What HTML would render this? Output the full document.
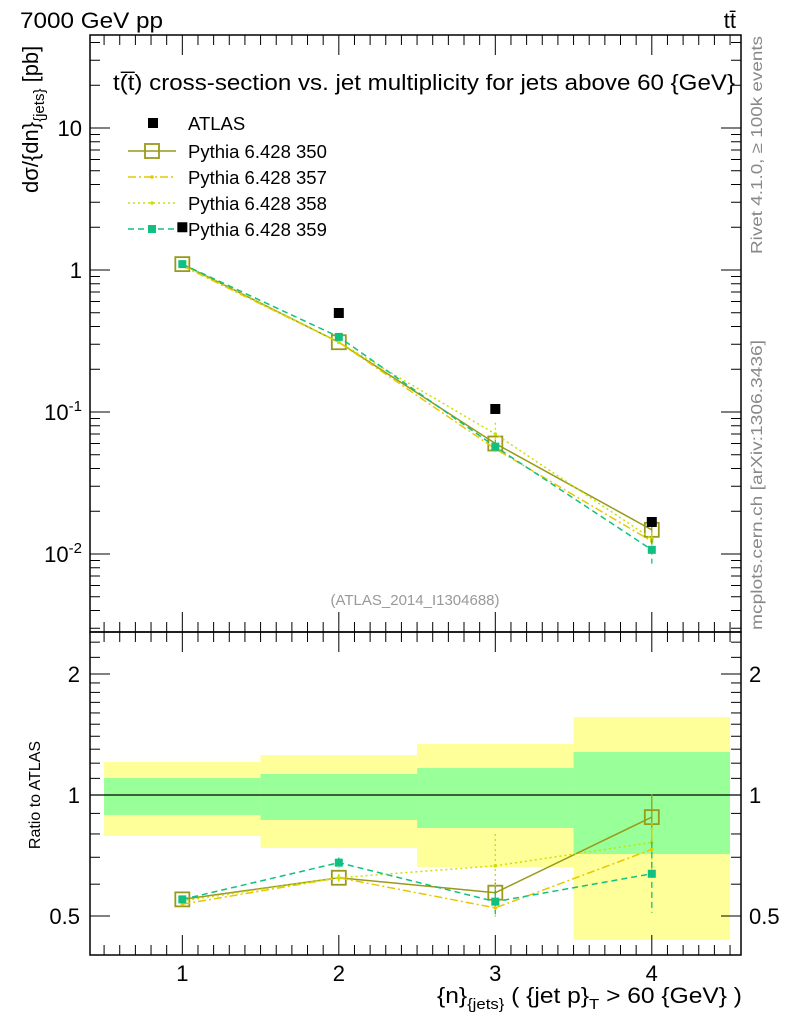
<!DOCTYPE html>
<html><head><meta charset="utf-8">
<style>
html,body{margin:0;padding:0;background:#fff;}
svg{display:block;font-family:"Liberation Sans",sans-serif;}
</style></head>
<body>
<svg id="chart" width="786" height="1024" viewBox="0 0 786 1024" xmlns="http://www.w3.org/2000/svg">
<text x="20" y="28" font-size="22" textLength="143" lengthAdjust="spacingAndGlyphs">7000 GeV pp</text>
<text x="736" y="28" font-size="22" text-anchor="end">tt̄</text>
<text x="113" y="90" font-size="22" textLength="622" lengthAdjust="spacingAndGlyphs">t(̅t) cross-section vs. jet multiplicity for jets above 60 {GeV}</text>
<text x="415" y="605" font-size="15" fill="#999" text-anchor="middle">(ATLAS_2014_I1304688)</text>
<text transform="translate(762,145) rotate(-90)" font-size="16" fill="#888" text-anchor="middle" textLength="218" lengthAdjust="spacingAndGlyphs">Rivet 4.1.0, ≥ 100k events</text>
<text transform="translate(762,485) rotate(-90)" font-size="16" fill="#888" text-anchor="middle" textLength="290" lengthAdjust="spacingAndGlyphs">mcplots.cern.ch [arXiv:1306.3436]</text>
<text transform="translate(38,193) rotate(-90)" font-size="22">dσ/{dn}<tspan font-size="15" dy="6">{jets}</tspan><tspan dy="-6"> [pb]</tspan></text>
<text transform="translate(40,795) rotate(-90)" font-size="16" text-anchor="middle">Ratio to ATLAS</text>
<text x="437" y="1003" font-size="22" textLength="305" lengthAdjust="spacingAndGlyphs">{n}<tspan font-size="15" dy="6">{jets}</tspan><tspan dy="-6"> ( {jet p}</tspan><tspan font-size="15" dy="6">T</tspan><tspan dy="-6"> &gt; 60 {GeV} )</tspan></text>
<g id="bands"></g><g id="plots"></g><g id="axes"></g>
<g id="legend"></g>
</svg>
<script>
const categories=[1,2,3,4];
const binEdges=[0.5,1.5,2.5,3.5,4.5];
const atlas=[2.0,0.498,0.105,0.0168];
const s350=[1.1,0.31,0.060,0.0148];
const s357=[1.07,0.31,0.055,0.0123];
const s358=[1.09,0.31,0.070,0.0128];
const s359=[1.1,0.338,0.057,0.0107];
const e350=[0.01,0.02,0.06,0.14];
const e357=[0.01,0.02,0.05,0.12];
const e358=[0.01,0.02,0.2,0.12];
const e359=[0.01,0.03,0.07,0.2];
const yellowLo=[0.791,0.738,0.662,0.436];
const yellowHi=[1.208,1.257,1.339,1.563];
const greenLo=[0.892,0.867,0.828,0.713];
const greenHi=[1.102,1.128,1.167,1.279];
const mainTicks=["10^-2","10^-1","1","10"];
const ratioTicks=[0.5,1,2];

const NS="http://www.w3.org/2000/svg";
const L=90,R=741,T=35,M=632,B=955;
const X=v=>L+(v-0.41)/(4.57-0.41)*(R-L);
const Y=v=>270-142*Math.log10(v);
const YR=v=>795-402*Math.log10(v);
function mk(tag,attrs,parent){const e=document.createElementNS(NS,tag);for(const k in attrs)e.setAttribute(k,attrs[k]);parent.appendChild(e);return e;}
const bands=document.getElementById('bands'),plots=document.getElementById('plots'),axes=document.getElementById('axes'),legend=document.getElementById('legend');

for(let i=0;i<4;i++){
  let r=mk('rect',{x:X(binEdges[i]),y:YR(yellowHi[i]),width:X(binEdges[i+1])-X(binEdges[i]),height:YR(yellowLo[i])-YR(yellowHi[i]),fill:'#ffff99'},bands);
  
  
  let g=mk('rect',{x:X(binEdges[i]),y:YR(greenHi[i]),width:X(binEdges[i+1])-X(binEdges[i]),height:YR(greenLo[i])-YR(greenHi[i]),fill:'#99ff99'},bands);
  
  
}
let one=mk('line',{x1:L,x2:R,y1:YR(1),y2:YR(1),stroke:'#000','stroke-width':1.3},bands);



const series=[
 {name:'350',vals:s350,errs:e350,color:'#9a9a1a',dash:'',marker:'open'},
 {name:'357',vals:s357,errs:e357,color:'#e6c800',dash:'8,3,2,3',marker:'dot'},
 {name:'358',vals:s358,errs:e358,color:'#c8e000',dash:'2,3',marker:'dot'},
 {name:'359',vals:s359,errs:e359,color:'#10c080',dash:'6,4',marker:'sq'}];
function marker(s,x,y,parent,nm){
  let m;
  if(s.marker==='open')m=mk('rect',{x:x-7,y:y-7,width:14,height:14,fill:'none',stroke:s.color,'stroke-width':1.8},parent);
  else if(s.marker==='sq')m=mk('rect',{x:x-4,y:y-4,width:8,height:8,fill:s.color},parent);
  else m=mk('circle',{cx:x,cy:y,r:1.8,fill:s.color},parent);
  
  
}
function errbar(s,x,y1,y2,nm){
  let e=mk('line',{x1:x,x2:x,y1:y1,y2:y2,stroke:s.color,'stroke-width':1.3,'stroke-dasharray':s.dash},plots);
  
  
}
series.forEach(s=>{
  let pm=categories.map((c,i)=>X(c)+','+Y(s.vals[i])).join(' ');
  let l=mk('polyline',{points:pm,fill:'none',stroke:s.color,'stroke-width':1.5,'stroke-dasharray':s.dash},plots);
  
  
  let pr=categories.map((c,i)=>X(c)+','+YR(s.vals[i]/atlas[i])).join(' ');
  let lr=mk('polyline',{points:pr,fill:'none',stroke:s.color,'stroke-width':1.5,'stroke-dasharray':s.dash},plots);
  
  
  categories.forEach((c,i)=>{
    const v=s.vals[i],e=s.errs[i],r=v/atlas[i];
    errbar(s,X(c),Y(v*(1+e)),Y(v*(1-e)),'error-main-'+s.name);
    errbar(s,X(c),YR(r*(1+e)),YR(r*(1-e)),'error-ratio-'+s.name);
    marker(s,X(c),Y(v),plots,'point-main-'+s.name);
    marker(s,X(c),YR(r),plots,'point-ratio-'+s.name);
  });
});
categories.forEach((c,i)=>{
  let a=mk('rect',{x:X(c)-5,y:Y(atlas[i])-5,width:10,height:10,fill:'#000'},plots);
  
  
});

[[T,M],[M,B]].forEach(([t,b],k)=>{
  let f=mk('rect',{x:L,y:t,width:R-L,height:b-t,fill:'none',stroke:'#000','stroke-width':1.5},axes);
  
  
});
function tick(x1,y1,x2,y2){mk('line',{x1,y1,x2,y2,stroke:'#000','stroke-width':1},axes);}
for(let d=-3;d<=1;d++){for(let m=1;m<10;m++){const v=m*Math.pow(10,d);const y=Y(v);if(y<T||y>M)continue;const len=m===1?20:10;tick(L,y,L+len,y);tick(R,y,R-len,y);}}
const mainVals=[0.01,0.1,1,10];
mainVals.forEach((v,i)=>{
  const lab=mainTicks[i];let t=mk('text',{x:L-8,y:Y(v)+8,'font-size':22,'text-anchor':'end'},axes);
  if(lab.includes('^')){const [b,e]=lab.split('^');t.innerHTML=b+'<tspan font-size="15" dy="-9">'+e+'</tspan>';}
  else{t.textContent=lab;}
  
  
});
[0.5,0.6,0.7,0.8,0.9,1.1,1.2,1.3,1.4,1.5,1.6,1.7,1.8,1.9,2,2.2,2.4].forEach(v=>{const y=YR(v);if(y<M||y>B)return;const len=(v===0.5||v===1||v===2)?20:10;tick(L,y,L+len,y);tick(R,y,R-len,y);});
ratioTicks.forEach(v=>{
  let t=mk('text',{x:L-10,y:YR(v)+8,'font-size':22,'text-anchor':'end'},axes);t.textContent=String(v);
  
  
  let t2=mk('text',{x:R+8,y:YR(v)+8,'font-size':22},axes);t2.textContent=String(v);
  
  
});
for(let v=0.5;v<=4.55;v+=0.1){const vv=Math.round(v*10)/10;const x=X(vv);if(x<L||x>R)continue;const maj=Math.abs(vv-Math.round(vv))<1e-6;const len=maj?20:10;
  tick(x,B,x,B-len);tick(x,M,x,M-len);tick(x,M,x,M+len);tick(x,T,x,T+len);}
categories.forEach(c=>{let t=mk('text',{x:X(c),y:B+26,'font-size':22,'text-anchor':'middle'},axes);t.textContent=String(c);
  
  });

const ly=[123,151,177,203,229];
let la=mk('rect',{x:148,y:ly[0]-5,width:10,height:10,fill:'#000'},legend);


let lt=mk('text',{x:188,y:ly[0]+7,'font-size':18.5},legend);lt.textContent='ATLAS';


series.forEach((s,i)=>{const y=ly[i+1];
  let l=mk('line',{x1:128,x2:176,y1:y,y2:y,stroke:s.color,'stroke-width':1.5,'stroke-dasharray':s.dash},legend);
  
  
  marker(s,152,y,legend,'legend-marker-'+s.name);
  let t=mk('text',{x:188,y:y+7,'font-size':18.5},legend);t.textContent='Pythia 6.428 '+s.name;
  
  
});
</script>
</body></html>
